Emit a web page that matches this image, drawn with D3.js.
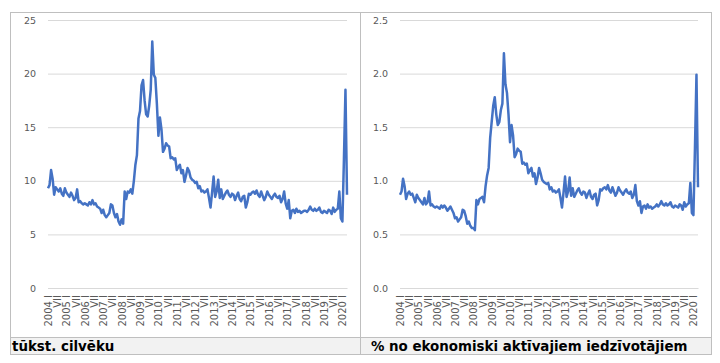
<!DOCTYPE html>
<html>
<head>
<meta charset="utf-8">
<script src="https://cdn.jsdelivr.net/npm/d3@7"></script>
<style>
body { margin:0; background:#fff; }
svg { display:block; }
</style>
</head>
<body>
<script>
var canvaswidth=720;
var canvasheight=363;

// monthly values, 2004 I .. 2020 IV
var thousands=[
9.3,9.6,11.0,10.2,8.7,9.4,9.2,9.0,9.3,8.8,8.6,9.3,
8.9,8.7,8.5,8.9,8.6,8.2,8.4,9.2,8.0,8.1,7.9,7.8,
7.9,7.8,7.7,8.0,7.8,8.2,7.8,7.9,7.6,7.5,7.4,7.0,
7.3,6.8,6.6,6.8,7.0,7.8,7.7,7.0,6.6,6.9,6.2,5.9,
6.4,6.0,9.0,8.3,9.0,8.9,9.2,8.8,10.0,11.5,12.4,15.8,
16.5,18.9,19.4,17.5,16.2,16.0,17.0,18.5,23.0,19.9,19.6,17.2,
14.2,15.9,14.8,12.7,13.0,13.5,13.3,13.2,12.1,12.2,12.0,12.1,
11.0,11.3,11.5,10.7,11.0,9.9,10.5,11.2,10.9,10.3,10.1,10.0,
9.8,9.9,9.3,9.5,9.0,9.1,8.9,9.0,9.2,8.4,7.5,8.9,
10.4,8.5,9.0,10.1,8.4,9.2,8.3,8.6,8.9,9.1,8.7,8.5,
8.8,8.7,8.2,8.6,8.9,8.3,8.1,8.5,8.6,7.5,8.0,8.8,
8.7,8.9,9.0,8.8,9.1,8.7,8.5,9.0,8.6,8.2,8.5,9.0,
8.7,8.5,8.3,8.6,8.8,8.5,8.4,8.6,8.0,8.3,9.0,7.9,
7.4,8.2,6.5,7.2,7.3,7.0,7.4,7.1,7.2,7.0,7.1,7.2,
7.2,7.1,7.3,7.6,7.3,7.2,7.4,7.2,7.3,7.5,7.1,7.0,
7.2,7.1,7.0,7.3,7.2,6.9,7.5,7.1,7.3,7.4,9.0,6.5,
6.2,12.0,18.5,8.7];

var percent=[
0.87,0.90,1.02,0.95,0.83,0.88,0.90,0.87,0.88,0.84,0.80,0.87,
0.84,0.82,0.80,0.78,0.84,0.78,0.80,0.90,0.77,0.78,0.76,0.75,
0.76,0.75,0.74,0.77,0.75,0.77,0.75,0.72,0.74,0.76,0.73,0.70,
0.65,0.66,0.62,0.64,0.66,0.73,0.72,0.67,0.60,0.62,0.58,0.56,
0.56,0.54,0.82,0.78,0.83,0.84,0.85,0.80,0.95,1.05,1.12,1.40,
1.55,1.70,1.78,1.62,1.52,1.55,1.66,1.72,2.19,1.90,1.82,1.62,
1.36,1.52,1.42,1.22,1.25,1.30,1.28,1.27,1.16,1.17,1.15,1.16,
1.07,1.10,1.12,1.04,1.07,0.97,1.03,1.12,1.07,1.01,0.99,0.98,
0.97,0.98,0.92,0.94,0.90,0.91,0.89,0.90,0.92,0.84,0.75,0.89,
1.04,0.85,0.90,1.03,0.86,0.93,0.85,0.88,0.91,0.93,0.89,0.87,
0.90,0.89,0.84,0.88,0.91,0.85,0.83,0.87,0.88,0.77,0.82,0.92,
0.91,0.93,0.94,0.92,0.96,0.91,0.89,0.94,0.90,0.86,0.89,0.94,
0.91,0.89,0.87,0.90,0.92,0.89,0.88,0.90,0.84,0.87,0.96,0.81,
0.77,0.81,0.70,0.76,0.77,0.74,0.78,0.75,0.76,0.74,0.75,0.76,
0.78,0.76,0.78,0.81,0.78,0.77,0.79,0.77,0.78,0.80,0.76,0.75,
0.77,0.76,0.75,0.78,0.77,0.73,0.80,0.76,0.78,0.79,0.98,0.70,
0.68,1.30,1.99,0.94];

// category labels, one every 6 months
var tickLabels=["2004 I","VII","2005 I","VII","2006 I","VII","2007 I","VII","2008 I","VII",
"2009 I","VII","2010 I","VII","2011 I","VII","2012 I","VII","2013 I","VII","2014 I","VII",
"2015 I","VII","2016 I","VII","2017 I","VII","2018 I","VII","2019 I","VII","2020 I"];
var leftTicks=[0,5,10,15,20,25];
var rightTicks=[0,0.5,1,1.5,2,2.5];
var titles=["tūkst. cilvēku","% no ekonomiski aktīvajiem iedzīvotājiem"];

var svg=d3.select("body").append("svg").attr("width",canvaswidth).attr("height",canvasheight);

function drawPanel(px,pw,tx,x0,x1,values,ticks,fmt,title) {
	var g=svg.append("g");
	g.append("rect").attr("x",px+0.5).attr("y",12.5).attr("width",pw).attr("height",342).attr("fill","#fff").attr("stroke","#bfbfbf"); //frame
	g.append("rect").attr("x",px+0.5).attr("y",337.5).attr("width",pw).attr("height",17).attr("fill","#f2f2f2").attr("stroke","#bfbfbf"); //title band
	g.append("text").attr("x",tx).attr("y",351).text(title).attr("font-family","DejaVu Sans").attr("font-weight","bold").attr("font-size",13.4).attr("fill","#000");

	var x=d3.scalePoint().domain(d3.range(values.length)).range([x0,x1]);
	var y=d3.scaleLinear().domain([ticks[0],ticks[ticks.length-1]]).range([288,20]);

	var yaxis=g.append("g").attr("transform","translate("+x0+",0)")
		.call(d3.axisLeft(y).tickValues(ticks).tickFormat(fmt).tickSize(-(x1-x0)).tickPadding(12));
	yaxis.select(".domain").remove();
	yaxis.selectAll("line").attr("stroke","#d9d9d9");
	yaxis.selectAll("text").attr("font-family","DejaVu Sans").attr("font-size",9.5).attr("fill","#595959");

	var idx=tickLabels.map(function(d,i){return i*6;});
	var xaxis=g.append("g").attr("transform","translate(0,288)")
		.call(d3.axisBottom(x).tickValues(idx).tickFormat(function(d){return tickLabels[d/6];}).tickSize(0));
	xaxis.select(".domain").attr("stroke","#d9d9d9");
	xaxis.selectAll("text").attr("font-family","DejaVu Sans").attr("font-size",10).attr("fill","#595959")
		.attr("transform","rotate(-90)").attr("text-anchor","end").attr("x",-7).attr("y",0).attr("dy","0.35em");

	var line=d3.line().x(function(d,i){return x(i);}).y(function(d){return y(d);});
	g.append("path").datum(values).attr("d",line).attr("fill","none").attr("stroke","#4472c4")
		.attr("stroke-width",2.5).attr("stroke-linejoin","round"); //series line
}

drawPanel(10,350,12,48,347,thousands,leftTicks,d3.format("d"),titles[0]);
drawPanel(360,351,371,400,698,percent,rightTicks,d3.format(".1f"),titles[1]);
</script>
</body>
</html>
